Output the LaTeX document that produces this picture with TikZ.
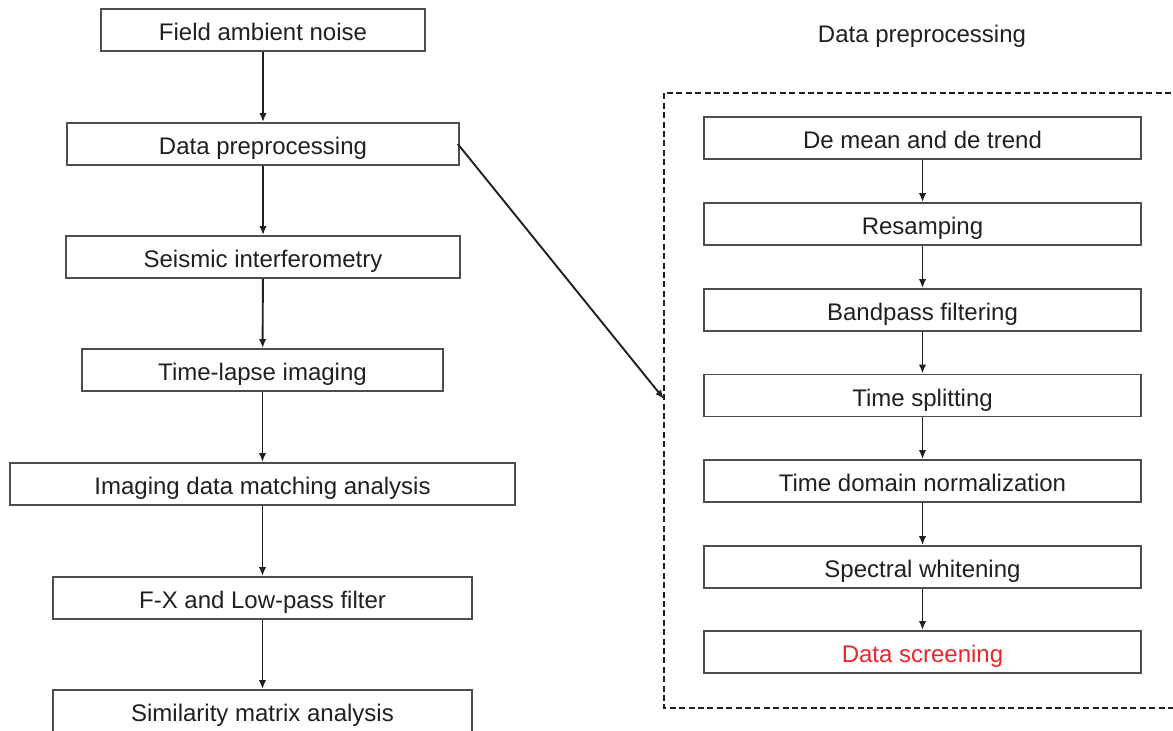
\documentclass[tikz,border=0pt]{standalone}
\usepackage{fontspec}
\setmainfont{Liberation Sans}
\usetikzlibrary{arrows.meta}
\definecolor{ink}{HTML}{231F20}
\definecolor{edge}{HTML}{4D4D4D}
\definecolor{alert}{HTML}{E8262B}
\begin{document}
\begin{tikzpicture}[x=0.5pt,y=-0.5pt,
  box/.style={draw=edge,line width=0.8pt,fill=white,minimum height=21pt,
    inner sep=0pt,text height=11pt,text depth=0.4pt,text=ink,
    font=\fontsize{12}{14}\selectfont},
  flow/.style={draw=ink,line width=0.95pt,-{Latex[length=4.5pt,width=3.6pt]}},
  frame/.style={draw=ink,line width=1.2pt,dash pattern=on 3pt off 1.7pt}]
\useasboundingbox (0,0) rectangle (1173,731);
\clip (0,0) rectangle (1173,731);

% main workflow column
\node[box,minimum width=162pt] (fan)  at (263,30)    {Field ambient noise};
\node[box,minimum width=196pt] (pre)  at (263,144)   {Data preprocessing};
\node[box,minimum width=197pt] (si)   at (263,257)   {Seismic interferometry};
\node[box,minimum width=180.5pt] (tli) at (262.5,370) {Time-lapse imaging};
\node[box,minimum width=252.5pt] (idm) at (262.5,484) {Imaging data matching analysis};
\node[box,minimum width=209.5pt] (fx)  at (262.5,598) {F-X and Low-pass filter};
\node[box,minimum width=209.5pt] (sma) at (262.5,711) {Similarity matrix analysis};

\draw[flow] (fan) -- (pre);
\draw[flow] (pre) -- (si);
\draw[flow] (si) -- (tli);
\draw[flow] (tli) -- (idm);
\draw[flow] (idm) -- (fx);
\draw[flow] (fx) -- (sma);

% preprocessing detail
\node[text=ink,font=\fontsize{12}{14}\selectfont] (ttl) at (922,36) {Data preprocessing};
\draw[frame] (1190,93) -- (664,93) -- (664,708) -- (1190,708);
\coordinate (fl) at (664,399);

\node[box,minimum width=218.5pt] (dm)  at (922.5,138)   {De mean and de trend};
\node[box,minimum width=218.5pt] (rs)  at (922.5,224)   {Resamping};
\node[box,minimum width=218.5pt] (bp)  at (922.5,310)   {Bandpass filtering};
\node[box,minimum width=218.5pt] (ts)  at (922.5,395.5) {Time splitting};
\node[box,minimum width=218.5pt] (tdn) at (922.5,481)   {Time domain normalization};
\node[box,minimum width=218.5pt] (sw)  at (922.5,567)   {Spectral whitening};
\node[box,minimum width=218.5pt,text=alert] (ds) at (922.5,652) {Data screening};

\draw[flow] (dm) -- (rs);
\draw[flow] (rs) -- (bp);
\draw[flow] (bp) -- (ts);
\draw[flow] (ts) -- (tdn);
\draw[flow] (tdn) -- (sw);
\draw[flow] (sw) -- (ds);

\draw[flow] ([xshift=-1pt]pre.east) -- (fl);
\end{tikzpicture}
\end{document}
